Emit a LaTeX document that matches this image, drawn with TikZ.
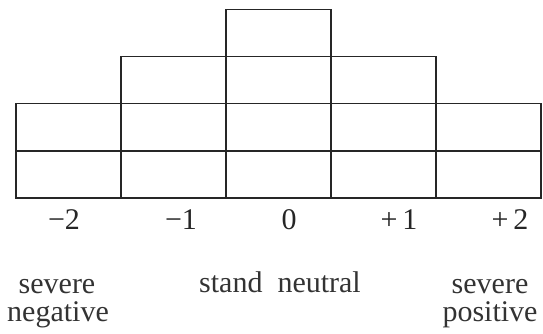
\documentclass[tikz,border=0pt]{standalone}
\usepackage{fontspec}
\setmainfont{Liberation Serif}
\begin{document}
\begin{tikzpicture}[x=1pt,y=-1pt,
  cell/.style={draw=black!85,line width=1.5pt,minimum width=105pt,minimum height=47pt,inner sep=0pt,anchor=north west},
  num/.style={font=\fontsize{30}{36}\selectfont,anchor=base,inner sep=0pt,text=black!85},
  word/.style={font=\fontsize{30}{36}\selectfont,anchor=base,inner sep=0pt,text=black!80}]
\useasboundingbox (0,0) rectangle (543,334);
% bottom two rows
\foreach \i in {0,...,4}{
  \node[cell] (a\i) at (15+105*\i,150) {};
  \node[cell] (b\i) at (15+105*\i,103) {};
}
\foreach \i in {1,2,3}{
  \node[cell] (c\i) at (15+105*\i,56) {};
}
\node[cell] (d2) at (225,9) {};
% scale labels
\node[num] (lm2) at (64,229) {−2};
\node[num] (lm1) at (181,229) {−1};
\node[num] (l0)  at (289,229) {0};
\node[num] (lp1) at (399,229) {+\,1};
\node[num] (lp2) at (510,229) {+\,2};
% descriptions
\node[word] (sn1) at (57,293) {severe};
\node[word] (sn2) at (58,321) {negative};
\node[word] (sn) at (280,292) {stand\ \ neutral};
\node[word] (sp1) at (490,293) {severe};
\node[word] (sp2) at (490,321) {positive};
\end{tikzpicture}
\end{document}
